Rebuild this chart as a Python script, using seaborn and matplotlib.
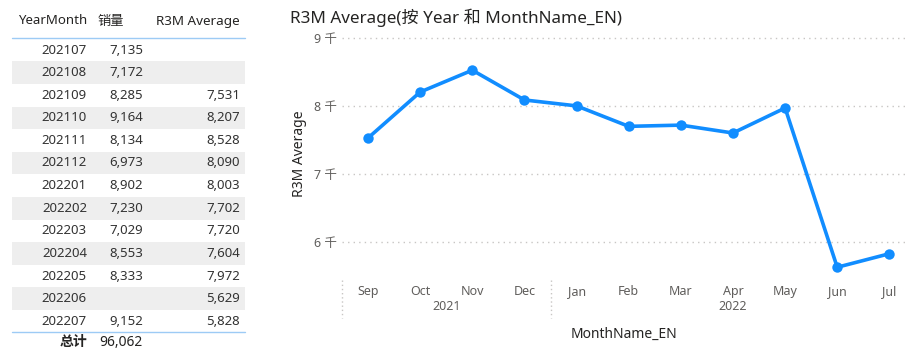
import matplotlib
matplotlib.use('Agg')
import matplotlib.pyplot as plt
import matplotlib.ticker as mticker
from matplotlib.lines import Line2D
from matplotlib.patches import Rectangle
import numpy as np
import pandas as pd
import seaborn as sns

# table data
year_months = ['202107', '202108', '202109', '202110', '202111', '202112',
               '202201', '202202', '202203', '202204', '202205', '202206', '202207']
sales = [7135, 7172, 8285, 9164, 8134, 6973, 8902, 7230, 7029, 8553, 8333, None, 9152]
r3m_table = [None, None, 7531, 8207, 8528, 8090, 8003, 7702, 7720, 7604, 7972, 5629, 5828]
sales_total = 96062

# chart data
months = ['Sep', 'Oct', 'Nov', 'Dec', 'Jan', 'Feb', 'Mar', 'Apr', 'May', 'Jun', 'Jul']
years = [2021, 2021, 2021, 2021, 2022, 2022, 2022, 2022, 2022, 2022, 2022]
r3m = [7531, 8207, 8528, 8090, 8003, 7702, 7720, 7604, 7972, 5629, 5828]

sns.set_style('white')
plt.rcParams['font.family'] = ['Noto Sans', 'Noto Sans CJK SC']

DARK = '#252423'
GREY = '#605E5C'
BLUE = '#118DFF'


def fmt(v):
    return '' if v is None else '{:,}'.format(v)


fig = plt.figure(figsize=(9.18, 3.6), dpi=100)

# ---- table, drawn in pixel coordinates ----
tab = fig.add_axes([0, 0, 260 / 918, 1])
tab.set_xlim(0, 260)
tab.set_ylim(360, 0)
tab.axis('off')

row0, row_h = 50, 22.6
tab.text(18, 21, 'YearMonth', ha='left', va='center', fontsize=9.5, color=DARK)
tab.text(97, 21, '销量', ha='left', va='center', fontsize=9.5, color=DARK)
tab.text(240, 21, 'R3M Average', ha='right', va='center', fontsize=9.7, color=DARK)
tab.add_line(Line2D([12, 245], [38, 38], color='#9DCBF5', lw=1))

for i, ym in enumerate(year_months):
    y = row0 + i * row_h
    if i % 2 == 1:
        tab.add_patch(Rectangle((12, y - row_h / 2), 233, row_h, color='#EEEEEE', lw=0))
    tab.text(87, y, ym, ha='right', va='center', fontsize=9.5, color='#333333')
    tab.text(143, y, fmt(sales[i]), ha='right', va='center', fontsize=9.5, color='#333333')
    tab.text(240, y, fmt(r3m_table[i]), ha='right', va='center', fontsize=9.5, color='#333333')

ytot = row0 + len(year_months) * row_h - 1
tab.add_line(Line2D([12, 245], [ytot - 11, ytot - 11], color='#9DCBF5', lw=1))
tab.text(87, ytot, '总计', ha='right', va='center', fontsize=10, color=DARK, fontweight='bold')
tab.text(143, ytot, fmt(sales_total), ha='right', va='center', fontsize=10,
         color=DARK, fontweight='bold')

# ---- line chart ----
ax = fig.add_axes([342 / 918, 1 - 275 / 360, (905 - 342) / 918, (275 - 32) / 360])
df = pd.DataFrame({'pos': np.arange(len(months)), 'month': months, 'year': years, 'r3m': r3m})
sns.lineplot(data=df, x='pos', y='r3m', ax=ax, color=BLUE, lw=2.6,
             marker='o', markersize=7.5, markeredgewidth=0)

ax.set_xlim(-0.5, 10.3)
ax.set_ylim(5515, 9090)
ax.yaxis.set_major_locator(mticker.MultipleLocator(1000))
ax.yaxis.set_major_formatter(mticker.FuncFormatter(lambda v, p: '{:.0f} 千'.format(v / 1000)))
ax.grid(axis='y', linestyle=(0, (1, 3)), color='#C8C6C4', lw=1)
ax.grid(axis='x', visible=False)
for s in ax.spines.values():
    s.set_visible(False)
ax.tick_params(axis='both', length=0, colors=GREY, labelsize=9)
ax.tick_params(axis='y', pad=4)
ax.tick_params(axis='x', pad=7)
ax.set_xticks(df['pos'])
ax.set_xticklabels(df['month'])

ax.set_ylabel('R3M Average', fontsize=10, color=DARK, labelpad=5)
ax.set_xlabel('MonthName_EN', fontsize=10, color=DARK, labelpad=21)

# year groups under the month labels
trans = ax.get_xaxis_transform()
for yr, grp in df.groupby('year'):
    ax.text(grp['pos'].mean(), -0.128, str(yr), transform=trans, ha='center', va='center',
            fontsize=9, color=GREY)
    start = grp['pos'].min() - 0.5
    ax.add_line(Line2D([start, start], [-0.02, -0.177], transform=trans, clip_on=False,
                       color='#C8C6C4', lw=1, linestyle=(0, (1, 2))))

fig.text(290 / 918, 1 - 18 / 360, 'R3M Average(按 Year 和 MonthName_EN)', ha='left',
         va='center', fontsize=12.3, color=DARK)

fig.savefig('out.png', dpi=100)
